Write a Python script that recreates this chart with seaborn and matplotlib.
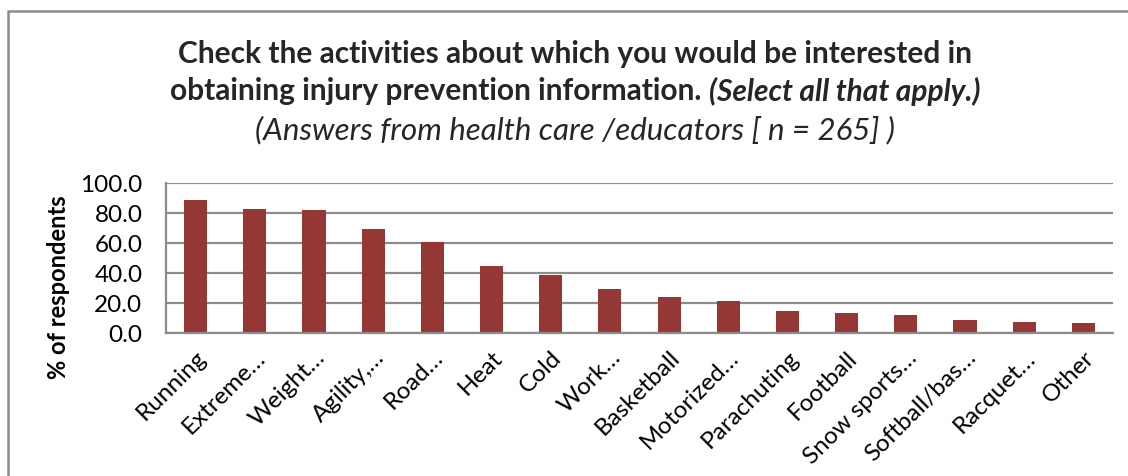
import matplotlib
matplotlib.use("Agg")
import matplotlib.pyplot as plt
import seaborn as sns
import pandas as pd
from matplotlib.patches import Rectangle

# Survey responses: share of respondents interested in each activity
activities = ["Running", "Extreme…", "Weight…", "Agility,…", "Road…", "Heat", "Cold",
              "Work…", "Basketball", "Motorized…", "Parachuting", "Football",
              "Snow sports…", "Softball/bas…", "Racquet…", "Other"]
percent = [88.5, 82.5, 82.0, 69.1, 60.7, 44.7, 38.4, 29.2, 23.8, 21.1,
           14.4, 13.6, 11.8, 8.7, 7.1, 6.4]
y_ticks = [0, 20, 40, 60, 80, 100]

df = pd.DataFrame({"activity": activities, "percent": percent})

sns.set_theme(style="white")
FONT = ["Lato", "DejaVu Sans"]
plt.rcParams["font.family"] = FONT

W, H, DPI = 1128, 476, 100
fig = plt.figure(figsize=(W / DPI, H / DPI), dpi=DPI)
fig.patch.set_facecolor("white")

# chart-area frame
fig.add_artist(Rectangle((8 / W, -0.1), 1.2, (H - 11) / H + 0.1,
                         transform=fig.transFigure, fill=False,
                         edgecolor="#8c8c8c", linewidth=1.8))

ax = fig.add_axes([166 / W, 1 - 333 / H, (1113 - 166) / W, (333 - 183) / H])
sns.barplot(data=df, x="activity", y="percent", color="#953735",
            saturation=1, width=0.39, ax=ax, edgecolor="none")

ax.set_ylim(0, 100)
ax.set_xlim(-0.5, len(activities) - 0.5)
ax.set_yticks(y_ticks)
ax.set_yticklabels([f"{v:.1f}" for v in y_ticks], fontsize=17.5, color="black")
ax.yaxis.grid(True, color="#8c8c8c", linewidth=1.6)
ax.set_axisbelow(True)
for side in ("top", "right"):
    ax.spines[side].set_visible(False)
ax.spines["left"].set_color("#8c8c8c")
ax.spines["left"].set_linewidth(1.6)
ax.spines["bottom"].set_color("#8c8c8c")
ax.spines["bottom"].set_linewidth(1.6)
ax.tick_params(axis="y", length=0, pad=17)
ax.tick_params(axis="x", length=0, pad=10)

ax.set_xticks(range(len(activities)))
ax.set_xticklabels(activities, rotation=45, ha="right", rotation_mode="anchor",
                   fontsize=17.5, color="black")
ax.set_xlabel("")
ax.set_ylabel("")
fig.text(58 / W, 1 - 287 / H, "% of respondents", rotation=90, ha="center",
         va="center", fontsize=17, fontweight="bold", color="black")

# title block
cx = 575 / W
fig.text(cx, 1 - 54 / H, "Check the activities about which you would be interested in",
         ha="center", va="center", fontsize=21.5, fontweight="bold")

renderer = fig.canvas.get_renderer()
part_a = "obtaining injury prevention information. "
part_b = "(Select all that apply.)"
ta = fig.text(0, 1 - 91 / H, part_a, ha="left", va="center", fontsize=21.5,
              fontweight="bold")
tb = fig.text(0, 1 - 91 / H, part_b, ha="left", va="center", fontsize=21.5,
              fontweight="bold", fontstyle="italic")
wa = ta.get_window_extent(renderer).width / W
wb = tb.get_window_extent(renderer).width / W
start = cx - (wa + wb) / 2
ta.set_x(start)
tb.set_x(start + wa)

fig.text(cx, 1 - 130 / H, "(Answers from health care /educators [ n = 265] )",
         ha="center", va="center", fontsize=22.5, fontstyle="italic")

fig.savefig("out.png", dpi=DPI, facecolor="white")
